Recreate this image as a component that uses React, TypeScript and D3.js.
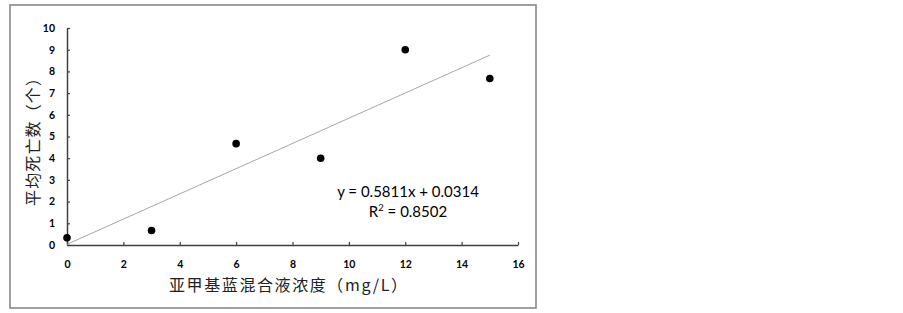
import { useEffect, useRef } from 'react';
import * as d3 from 'd3';

// concentration (mg/L) and mean deaths
const concentrations: number[] = [0, 3, 6, 9, 12, 15];
const deaths: number[] = [0.33, 0.67, 4.67, 4, 9, 7.67];
const xTicks: number[] = [0, 2, 4, 6, 8, 10, 12, 14, 16];
const yTicks: number[] = [0, 1, 2, 3, 4, 5, 6, 7, 8, 9, 10];
const slope = 0.5811;
const intercept = 0.0314;
const equationText = 'y = 0.5811x + 0.0314';
const r2Value = '0.8502';
const xTitle = '亚甲基蓝混合液浓度（mg/L）';
const yTitle = '平均死亡数（个）';

const ScatterChart = () => {
    const svgRef = useRef<SVGSVGElement>(null);

    useEffect(() => {
        if (!svgRef.current) return;
        const svg = d3.select(svgRef.current);
        svg.selectAll('*').remove();

        const width = 903;
        const height = 313;
        svg.attr('width', width).attr('height', height);

        // outer frame
        svg.append('rect')
            .attr('x', 10)
            .attr('y', 5)
            .attr('width', 526)
            .attr('height', 303)
            .attr('fill', '#fff')
            .attr('stroke', '#7f7f7f')
            .attr('stroke-width', 1.5);

        const x = d3.scaleLinear().domain([0, 16]).range([67, 518]);
        const y = d3.scaleLinear().domain([0, 10]).range([245, 28]);

        const tickFont = 'Lato, "Open Sans", sans-serif';

        // x axis
        const gx = svg.append('g')
            .attr('transform', `translate(0,${y(0)})`)
            .call(d3.axisBottom(x).tickValues(xTicks).tickSizeInner(-3).tickSizeOuter(0).tickPadding(16));
        gx.select('.domain').attr('stroke', '#404040').attr('stroke-width', 1.5);
        gx.selectAll('.tick line').attr('stroke', '#404040').attr('stroke-width', 1.2);
        gx.selectAll('text')
            .attr('font-family', tickFont)
            .attr('font-size', 10.5)
            .attr('font-weight', 700)
            .attr('fill', '#000');

        // y axis
        const gy = svg.append('g')
            .attr('transform', `translate(${x(0)},0)`)
            .call(d3.axisLeft(y).tickValues(yTicks).tickSizeInner(-3).tickSizeOuter(0).tickPadding(12));
        gy.select('.domain').attr('stroke', '#404040').attr('stroke-width', 1.5);
        gy.selectAll('.tick line').attr('stroke', '#404040').attr('stroke-width', 1.2);
        gy.selectAll('text')
            .attr('font-family', tickFont)
            .attr('font-size', 10.5)
            .attr('font-weight', 700)
            .attr('fill', '#000');

        // linear trendline
        const xMin = d3.min(concentrations) ?? 0;
        const xMax = d3.max(concentrations) ?? 15;
        svg.append('line')
            .attr('x1', x(xMin))
            .attr('y1', y(slope * xMin + intercept))
            .attr('x2', x(xMax))
            .attr('y2', y(slope * xMax + intercept))
            .attr('stroke', '#a6a6a6')
            .attr('stroke-width', 1);

        // points
        svg.selectAll('.pt')
            .data(concentrations)
            .enter()
            .append('circle')
            .attr('class', 'pt')
            .attr('cx', d => x(d))
            .attr('cy', (_, i) => y(deaths[i]))
            .attr('r', 3.8)
            .attr('fill', '#000');

        // equation label
        const eqFont = 'Lato, "Open Sans", sans-serif';
        svg.append('text')
            .attr('x', 408)
            .attr('y', 197)
            .attr('text-anchor', 'middle')
            .attr('font-family', eqFont)
            .attr('font-size', 15)
            .attr('fill', '#000')
            .text(equationText);

        const r2 = svg.append('text')
            .attr('x', 408)
            .attr('y', 217)
            .attr('text-anchor', 'middle')
            .attr('font-family', eqFont)
            .attr('font-size', 15)
            .attr('fill', '#000');
        r2.append('tspan').text('R');
        r2.append('tspan').attr('font-size', 9.5).attr('dy', -6).text('2');
        r2.append('tspan').attr('dy', 6).text(` = ${r2Value}`);

        // axis titles
        const cjkFont = '"Noto Sans CJK SC", sans-serif';
        svg.append('text')
            .attr('x', 288)
            .attr('y', 291)
            .attr('text-anchor', 'middle')
            .attr('font-family', cjkFont)
            .attr('font-size', 16)
            .attr('textLength', 238)
            .attr('lengthAdjust', 'spacing')
            .attr('fill', '#222')
            .text(xTitle);

        svg.append('text')
            .attr('transform', 'translate(39,138) rotate(-90)')
            .attr('text-anchor', 'middle')
            .attr('font-family', cjkFont)
            .attr('font-size', 16)
            .attr('textLength', 136)
            .attr('lengthAdjust', 'spacing')
            .attr('fill', '#222')
            .text(yTitle);
    }, []);

    return (
        <svg ref={svgRef} style={{ position: 'absolute', left: 0, top: 0, background: '#fff' }}></svg>
    );
};

export default ScatterChart;
